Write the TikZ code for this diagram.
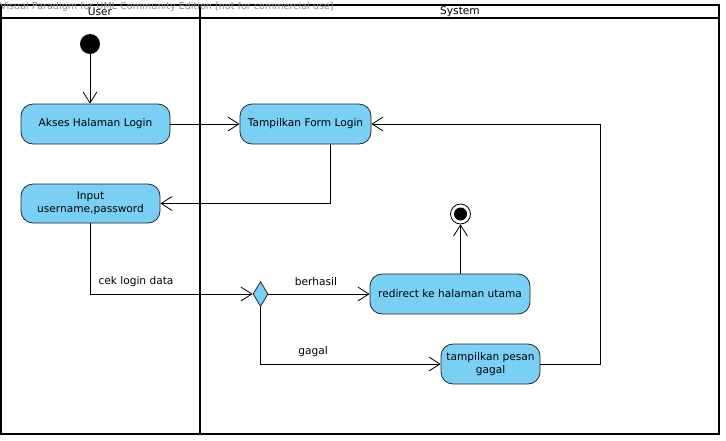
\documentclass[tikz,border=0pt]{standalone}
\usepackage{fontspec}
\setmainfont{DejaVu Sans}
\usetikzlibrary{arrows.meta,shapes.geometric}
\definecolor{actblue}{RGB}{122,207,245}
\definecolor{wmgray}{RGB}{140,140,140}
\newfontfamily\actfont{DejaVu Sans}
\begin{document}
\begin{tikzpicture}[x=1pt,y=-1pt,
  act/.style={draw=black!85, fill=actblue, rounded corners=12pt, line width=0.8pt,
    font=\actfont\fontsize{10.6}{13}\selectfont, align=center, inner sep=0pt},
  flow/.style={draw=black, line width=0.8pt, -{Straight Barb[length=11pt,width=14pt,line width=0.8pt]}},
  lane/.style={draw=black, line width=1.6pt},
  lbl/.style={font=\actfont\fontsize{10.6}{12}\selectfont, inner sep=0pt}]
\useasboundingbox (0,0) rectangle (726,440);
% swimlanes
\draw[lane] (1,5) rectangle (719,434);
\draw[lane] (1,18) -- (719,18);
\draw[lane] (200,5) -- (200,434);
\node[font=\fontsize{9.6}{11}\selectfont, text=wmgray, anchor=west, inner sep=0pt] (wm) at (0,7) {Visual Paradigm for UML Community Edition [not for commercial use]};
\node[lbl] (user) at (100,12) {User};
\node[lbl] (system) at (460,12) {System};
% nodes
\node[circle, fill=black, minimum size=20pt, inner sep=0pt] (init) at (90,44) {};
\node[act, minimum width=149pt, minimum height=40pt] (akses) at (95.5,124) {Akses Halaman Login};
\node[act, minimum width=131pt, minimum height=40pt] (form) at (305.5,124) {Tampilkan Form Login};
\node[act, minimum width=139pt, minimum height=39pt] (input) at (90.5,203.5) {Input\\username,password};
\node[diamond, draw=black!85, fill=actblue, line width=0.8pt, minimum width=15pt, minimum height=25pt, inner sep=0pt] (dec) at (260.5,294) {};
\node[act, minimum width=160pt, minimum height=40pt] (redir) at (450,294) {redirect ke halaman utama};
\node[act, minimum width=99pt, minimum height=40pt] (gagal) at (490.5,364) {tampilkan pesan\\gagal};
\node[circle, draw=black, fill=white, line width=0.8pt, minimum size=20pt, inner sep=0pt] (final) at (460.5,214) {};
\node[circle, fill=black, minimum size=13pt, inner sep=0pt] (finalin) at (final) {};
% connectors
\draw[flow] (init) -- (init |- akses.north);
\draw[flow] (akses) -- (form);
\draw[flow] (330,144) |- (input.east);
\draw[flow] (90,223) |- (dec.west);
\draw[flow] (dec.east) -- (redir.west);
\draw[flow] (dec.south) |- (gagal.west);
\draw[flow] (redir.north -| final) -- (final.south);
\coordinate (c3) at (600,364);
\draw[flow] (gagal.east) -- (c3) |- (form.east);
% labels
\node[lbl] (l1) at (136,282) {cek login data};
\node[lbl] (l2) at (316,282) {berhasil};
\node[lbl] (l3) at (313,352) {gagal};
\end{tikzpicture}
\end{document}
